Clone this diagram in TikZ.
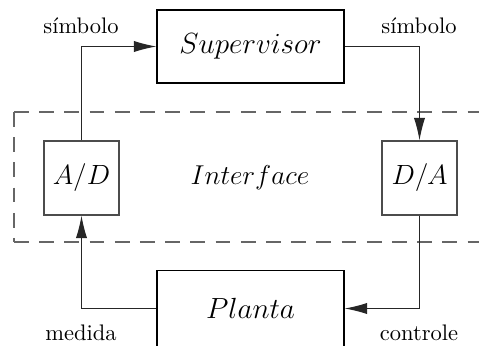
\documentclass[tikz,border=0pt]{standalone}
\usetikzlibrary{arrows.meta}
\tikzset{
  bigbox/.style={draw=black, line width=0.5pt, minimum width=83.1pt, minimum height=32.4pt, inner sep=0pt},
  smallbox/.style={draw=black!70, line width=0.5pt, minimum width=33.3pt, minimum height=32.9pt, inner sep=0pt},
  conn/.style={draw=black!85, line width=0.5pt, -{Latex[length=10pt,width=5pt]}},
  lbl/.style={inner sep=0pt, font=\fontsize{10}{12}\selectfont},
  iface/.style={draw=black!60, line width=0.5pt, dash pattern=on 6.6pt off 4.6pt}
}
\begin{document}
\begin{tikzpicture}[x=0.4445pt, y=-0.4445pt]
\useasboundingbox (0,0) rectangle (479,345);
\clip (0,0) rectangle (479,345);
\coordinate (tl) at (14,112);
\coordinate (bl) at (14,242);
\coordinate (tr) at (490,112);
\coordinate (br) at (490,242);
\draw[iface] (tl) -- (tr);
\draw[iface] (tl) -- (bl);
\draw[iface] (bl) -- (br);
\node[bigbox] (sup) at (250.5,46.5) {\fontsize{12}{14}\selectfont \scalebox{1.08}{$Supervisor$}};
\node[bigbox, minimum height=33.8pt] (plant) at (250.5,308.5) {\fontsize{12}{14}\selectfont \scalebox{1.08}{$Planta$}};
\node[smallbox] (ad) at (81.5,178) {\fontsize{12}{14}\selectfont \scalebox{1.03}{$A/D$}};
\node[smallbox] (da) at (419.5,178) {\fontsize{12}{14}\selectfont \scalebox{1.03}{$D/A$}};
\node[inner sep=0pt] (if) at (250,178) {\fontsize{12}{14}\selectfont \scalebox{1.01}{$Interface$}};
\node[lbl] (l1) at (81,26) {símbolo};
\node[lbl] (l2) at (419,26) {símbolo};
\node[lbl] (l3) at (81,333) {medida};
\node[lbl] (l4) at (419,333) {controle};
\draw[conn] (ad.north) |- (sup.west);
\draw[conn] (sup.east) -| (da.north);
\draw[conn] (da.south) |- (plant.east);
\draw[conn] (plant.west) -| (ad.south);
\end{tikzpicture}
\end{document}
